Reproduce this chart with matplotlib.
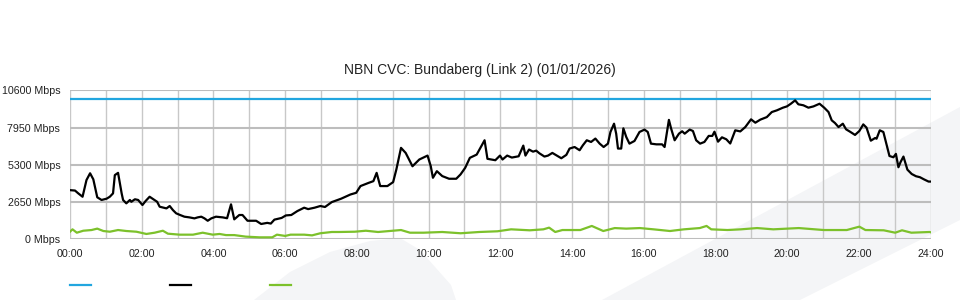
import matplotlib
matplotlib.use("Agg")
import matplotlib.pyplot as plt
from matplotlib.lines import Line2D
from matplotlib.patches import Polygon


TITLE = "NBN CVC: Bundaberg (Link 2) (01/01/2026)"
OUTPUT_PATH = "out.png"

# Capacity (blue)
cap_hours = [0, 24]
cap_mbps = [10000, 10000]

# Download traffic (black)
down_hours = [
    0.00, 0.14, 0.23, 0.35, 0.46, 0.56, 0.65, 0.76, 0.88, 1.02,
    1.11, 1.20, 1.25, 1.34, 1.44, 1.48, 1.57, 1.67, 1.71, 1.81,
    1.90, 2.02, 2.11, 2.22, 2.33, 2.43, 2.50, 2.69, 2.78, 2.87,
    2.96, 3.07, 3.19, 3.33, 3.47, 3.56, 3.66, 3.75, 3.84, 3.94,
    4.07, 4.26, 4.38, 4.49, 4.58, 4.72, 4.81, 4.95, 5.19, 5.33,
    5.50, 5.60, 5.70, 5.90, 6.02, 6.17, 6.34, 6.53, 6.64, 6.82,
    6.98, 7.11, 7.30, 7.56, 7.82, 7.98, 8.10, 8.33, 8.46, 8.55,
    8.65, 8.85, 9.01, 9.10, 9.23, 9.36, 9.55, 9.74, 9.97, 10.06,
    10.12, 10.23, 10.38, 10.57, 10.77, 10.89, 11.02, 11.15, 11.34, 11.47,
    11.56, 11.64, 11.86, 11.99, 12.06, 12.19, 12.32, 12.51, 12.64, 12.70,
    12.80, 12.91, 13.00, 13.09, 13.23, 13.33, 13.45, 13.56, 13.70, 13.84,
    13.93, 14.07, 14.21, 14.30, 14.41, 14.53, 14.65, 14.77, 14.88, 15.00,
    15.07, 15.17, 15.23, 15.28, 15.37, 15.43, 15.51, 15.60, 15.74, 15.88,
    16.02, 16.11, 16.20, 16.35, 16.51, 16.58, 16.70, 16.76, 16.86, 16.98,
    17.07, 17.14, 17.28, 17.37, 17.46, 17.57, 17.69, 17.81, 17.91, 17.97,
    18.07, 18.18, 18.30, 18.41, 18.55, 18.69, 18.83, 18.99, 19.11, 19.25,
    19.43, 19.57, 19.71, 19.88, 19.99, 20.10, 20.22, 20.31, 20.45, 20.59,
    20.73, 20.90, 21.03, 21.15, 21.24, 21.33, 21.43, 21.55, 21.64, 21.75,
    21.89, 22.01, 22.12, 22.21, 22.33, 22.45, 22.49, 22.58, 22.68, 22.77,
    22.85, 22.96, 23.03, 23.10, 23.16, 23.24, 23.35, 23.47, 23.59, 23.70,
    23.81, 23.94, 24.00,
]
down_mbps = [
    3500, 3470, 3270, 3030, 4220, 4700, 4270, 2990, 2800, 2890,
    3030, 3270, 4570, 4730, 3270, 2800, 2560, 2800, 2670, 2850,
    2800, 2440, 2730, 3030, 2840, 2670, 2320, 2200, 2370, 2080,
    1850, 1730, 1610, 1560, 1490, 1560, 1610, 1490, 1320, 1490,
    1610, 1560, 1500, 2490, 1420, 1730, 1730, 1320, 1320, 1090,
    1170, 1120, 1400, 1520, 1700, 1730, 2010, 2250, 2150, 2250,
    2370, 2300, 2650, 2890, 3190, 3310, 3790, 4020, 4140, 4730,
    3790, 3790, 4070, 4970, 6510, 6150, 5200, 5680, 5960, 5200,
    4380, 4850, 4500, 4310, 4310, 4620, 5090, 5800, 6030, 6630,
    7050, 5730, 5630, 5960, 5680, 5960, 5820, 5910, 6670, 5960,
    6390, 6240, 6310, 6120, 5890, 5960, 6150, 5980, 5770, 6010,
    6460, 6570, 6340, 6690, 7050, 6930, 7170, 6810, 6570, 6810,
    7640, 8230, 7520, 6460, 6460, 7900, 7290, 6810, 7000, 7640,
    7810, 7640, 6810, 6760, 6760, 6570, 8500, 7900, 7050, 7520,
    7690, 7520, 7810, 7710, 7050, 6810, 6930, 7360, 7360, 7660,
    6950, 7260, 7120, 6820, 7760, 7680, 7990, 8540, 8300, 8520,
    8700, 9060, 9180, 9370, 9460, 9650, 9890, 9610, 9540, 9370,
    9460, 9650, 9370, 9060, 8470, 8280, 7990, 8230, 7830, 7660,
    7430, 7710, 8180, 7950, 7020, 7210, 7160, 7760, 7640, 6720,
    5930, 5840, 6080, 5130, 5500, 5890, 4960, 4650, 4490, 4420,
    4270, 4110, 4110,
]

# Upload traffic (green)
up_hours = [
    0.00, 0.07, 0.19, 0.37, 0.60, 0.76, 0.93, 1.11, 1.34, 1.57,
    1.85, 2.13, 2.36, 2.59, 2.73, 3.06, 3.43, 3.70, 3.98, 4.17,
    4.35, 4.58, 4.90, 5.28, 5.64, 5.77, 6.00, 6.15, 6.53, 6.75,
    6.98, 7.30, 7.50, 7.94, 8.25, 8.59, 9.23, 9.48, 9.86, 10.38,
    10.89, 11.41, 11.92, 12.30, 12.82, 13.20, 13.36, 13.53, 13.73, 14.23,
    14.55, 14.87, 15.19, 15.51, 15.89, 16.27, 16.73, 17.12, 17.56, 17.75,
    17.88, 18.33, 18.71, 19.16, 19.61, 20.32, 21.02, 21.66, 22.01, 22.18,
    22.69, 23.01, 23.20, 23.46, 23.97, 24.00,
]
up_mbps = [
    540, 710, 470, 610, 660, 760, 590, 540, 660, 590,
    540, 380, 470, 610, 400, 330, 330, 470, 330, 380,
    300, 300, 190, 140, 140, 330, 240, 330, 330, 280,
    430, 520, 520, 540, 610, 520, 660, 470, 470, 520,
    430, 520, 570, 710, 640, 710, 830, 520, 660, 660,
    950, 590, 800, 760, 800, 710, 590, 710, 800, 950,
    710, 660, 710, 800, 710, 800, 660, 660, 900, 660,
    640, 470, 640, 470, 520, 500,
]

y_ticks = [0, 2650, 5300, 7950, 10600]
x_ticks = list(range(0, 25, 2))
x_labels = [f"{h:02d}:00" for h in x_ticks]

BLUE = "#22a6df"
GREEN = "#7cc12b"
BG_SHAPE = "#f4f5f7"
W, H = 960, 300


def px(x, y):
    # pixel coords -> figure fraction
    return (x / W, 1 - y / H)


def main():
    plt.rcParams["font.family"] = ["Liberation Sans", "DejaVu Sans"]

    fig = plt.figure(figsize=(9.6, 3), dpi=100)

    # faint background watermark shapes
    leaf = [(254, 300), (290, 272), (330, 252), (370, 241), (400, 238),
            (420, 250), (451, 285), (456, 300)]
    band = [(602, 300), (960, 107), (960, 220), (800, 300)]
    for shape in (leaf, band):
        fig.patches.append(Polygon([px(*p) for p in shape], closed=True,
                                   transform=fig.transFigure,
                                   facecolor=BG_SHAPE, edgecolor="none",
                                   zorder=-5))

    ax = fig.add_axes([70 / W, 1 - 239.3 / H, 860.7 / W, (239.3 - 90.4) / H])
    ax.set_zorder(1)
    ax.patch.set_alpha(0)

    ax.plot(cap_hours, cap_mbps, color=BLUE, lw=1.6, zorder=3)
    ax.plot(down_hours, down_mbps, color="black", lw=1.6, zorder=4)
    ax.plot(up_hours, up_mbps, color=GREEN, lw=1.6, zorder=3)

    ax.set_xlim(0, 24)
    ax.set_ylim(0, 10600)

    ax.set_xticks(x_ticks)
    ax.set_xticklabels(x_labels)
    ax.set_xticks(range(0, 25), minor=True)
    ax.set_yticks(y_ticks)
    ax.set_yticklabels([f"{v} Mbps" for v in y_ticks])

    ax.tick_params(axis="both", which="both", length=0, labelsize=7.7,
                   colors="#222222")
    ax.tick_params(axis="x", pad=7)
    ax.tick_params(axis="y", pad=7)

    ax.grid(True, axis="x", which="both", color="#c8c8c8", lw=1.0)
    ax.grid(True, axis="y", which="major", color="#bdbdbd", lw=1.5)
    ax.set_axisbelow(True)
    for side in ax.spines.values():
        side.set_visible(False)

    fig.text(0.5, 1 - 70 / H, TITLE, ha="center", va="center",
             fontsize=10, color="#222222")

    # legend swatches (no labels in the source)
    for x0, colour in ((70, BLUE), (170, "black"), (270, GREEN)):
        (xa, ya), (xb, yb) = px(x0, 285), px(x0 + 21, 285)
        fig.add_artist(Line2D([xa, xb], [ya, yb], color=colour, lw=1.6,
                              transform=fig.transFigure))

    fig.savefig(OUTPUT_PATH, dpi=100)
    plt.close(fig)


if __name__ == "__main__":
    main()
